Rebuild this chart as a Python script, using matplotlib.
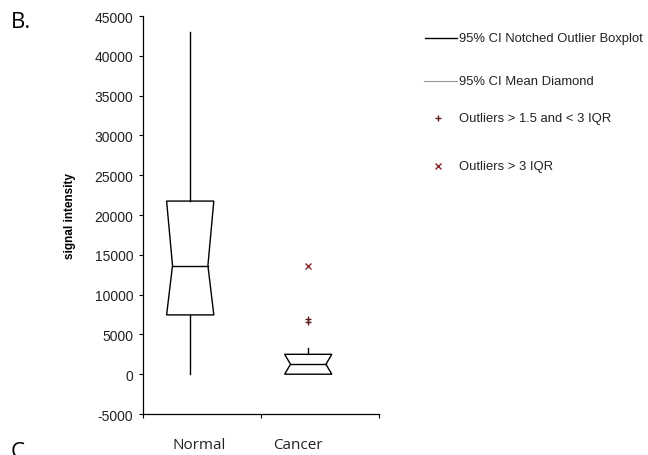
import matplotlib
matplotlib.use("Agg")
import matplotlib.pyplot as plt
from matplotlib.patches import Polygon
from matplotlib.lines import Line2D

# ---- data ----
categories = ["Normal", "Cancer"]
positions = [0.2, 0.7]
label_positions = [0.24, 0.655]
whisker_low = [0, None]
q1 = [7450, 0]
median = [13650, 1250]
q3 = [21750, 2500]
whisker_high = [43000, 3350]
outliers_mild = [[], [6950, 6550]]      # > 1.5 and < 3 IQR
outliers_extreme = [[], [13600]]         # > 3 IQR
yticks = list(range(-5000, 45001, 5000))
legend_labels = ["95% CI Notched Outlier Boxplot", "95% CI Mean Diamond",
                 "Outliers > 1.5 and < 3 IQR", "Outliers > 3 IQR"]

fig = plt.figure(figsize=(6.48, 4.56), dpi=100)
ax = fig.add_axes([0.2207, 0.0899, 0.3642, 0.8728])

half_w = 0.1          # half box width (axes units)
notch_w = 0.075       # half width at the median

for i, x in enumerate(positions):
    poly = [(x - half_w, q3[i]), (x + half_w, q3[i]), (x + notch_w, median[i]),
            (x + half_w, q1[i]), (x - half_w, q1[i]), (x - notch_w, median[i])]
    ax.add_patch(Polygon(poly, closed=True, fill=False, edgecolor="black", lw=1.0))
    ax.plot([x - notch_w, x + notch_w], [median[i], median[i]], color="black", lw=1.0)
    ax.plot([x, x], [q3[i], whisker_high[i]], color="black", lw=1.0)
    if whisker_low[i] is not None and whisker_low[i] < q1[i]:
        ax.plot([x, x], [whisker_low[i], q1[i]], color="black", lw=1.0)
    if outliers_mild[i]:
        ax.plot([x] * len(outliers_mild[i]), outliers_mild[i], linestyle="none",
                marker="+", ms=5, mew=1.0, color="#5a1a1a")
    if outliers_extreme[i]:
        ax.plot([x] * len(outliers_extreme[i]), outliers_extreme[i], linestyle="none",
                marker="x", ms=4.5, mew=1.0, color="#8b2a2a")

ax.set_xlim(0, 1)
ax.set_ylim(-5000, 45000)
ax.set_yticks(yticks)
ax.set_yticklabels([str(t) for t in yticks], fontsize=10, family="Liberation Sans",
                   color="#222222")
ax.set_xticks([0, 0.5, 1])
ax.set_xticklabels([])
ax.tick_params(axis="both", direction="out", length=3, width=0.8, pad=4)
for s in ["top", "right"]:
    ax.spines[s].set_visible(False)
for s in ["left", "bottom"]:
    ax.spines[s].set_linewidth(0.9)

W, H = 648, 456
def fx(px): return px / W
def fy(py): return 1 - py / H

# y label
fig.text(fx(70), fy(216), "signal intensity", rotation=90, fontsize=8.5,
         fontweight="bold", family="Liberation Sans", ha="center", va="center")

for x, lab in zip(label_positions, categories):
    ax.text(x, -0.077, lab, transform=ax.get_xaxis_transform(), ha="center",
            va="center", fontsize=11, family="Open Sans", color="#222222")

# panel letters
fig.text(fx(11), fy(28), "B.", fontsize=16, family="Open Sans", va="baseline")
fig.text(fx(11), fy(458), "C", fontsize=16, family="Open Sans", va="baseline")

# legend drawn at the right
fig.add_artist(Line2D([fx(425), fx(457)], [fy(39), fy(39)], color="black", lw=1.0))
fig.add_artist(Line2D([fx(424), fx(457)], [fy(82), fy(82)], color="#999999", lw=0.8))
fig.add_artist(Line2D([fx(438)], [fy(119)], marker="+", ms=5, mew=1.0,
                      color="#5a1a1a", linestyle="none"))
fig.add_artist(Line2D([fx(438)], [fy(167)], marker="x", ms=4, mew=1.0,
                      color="#8b2a2a", linestyle="none"))
for py, lab in zip([39, 82, 119, 167], legend_labels):
    fig.text(fx(459), fy(py), lab, fontsize=9.4, family="Liberation Sans",
             va="center", ha="left", color="#222222")

fig.savefig("out.png", dpi=100)
